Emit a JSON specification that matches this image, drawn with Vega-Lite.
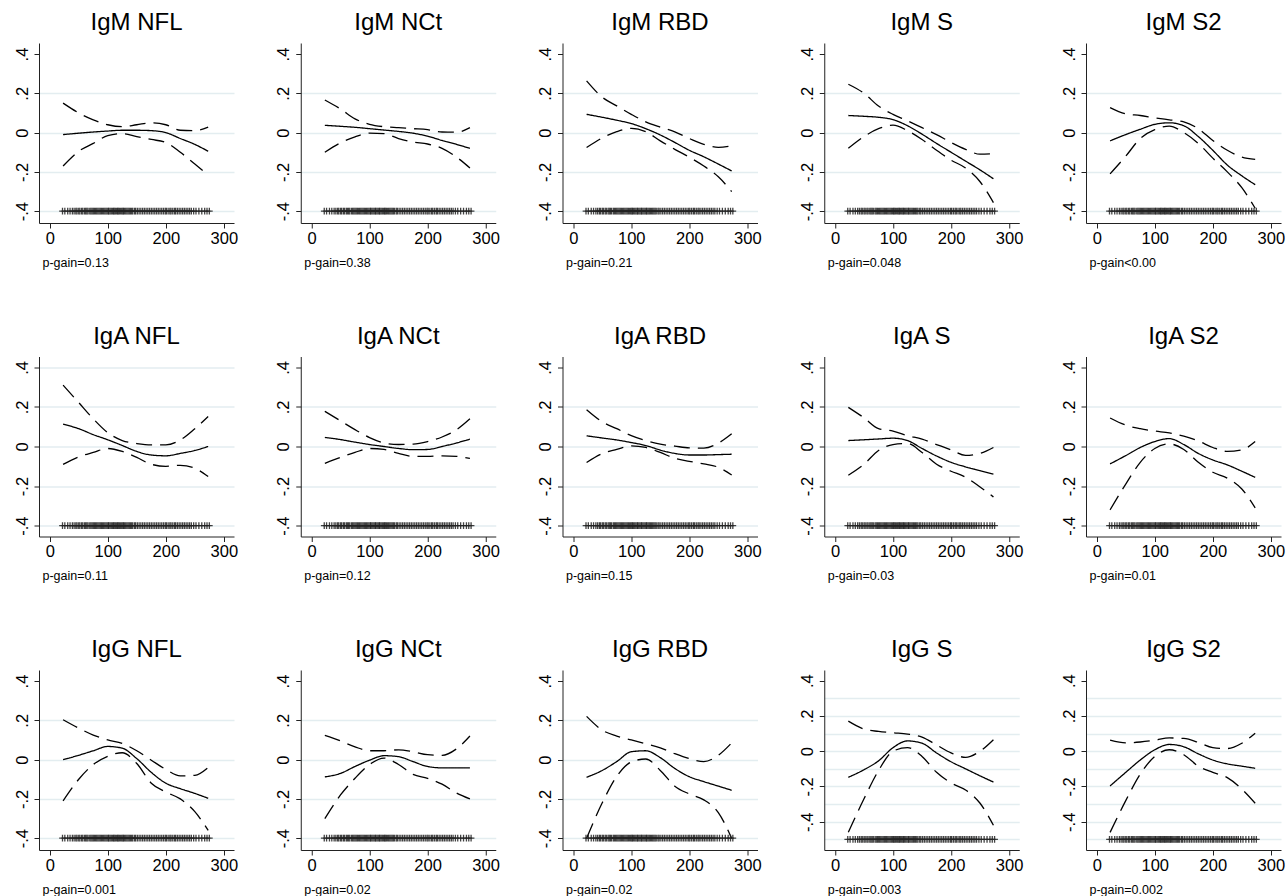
{
"$schema": "https://vega.github.io/schema/vega-lite/v6.json",
"padding": {"left": 13, "top": 11, "right": 2, "bottom": 2},
"background": "white",
"columns": 5,
"spacing": {"row": 133.5, "column": 66.75},
"bounds": "flush",
"config": {
 "view": {"stroke": null},
 "font": "Liberation Sans",
 "title": {"fontSize": 24, "fontWeight": "normal", "font": "Liberation Sans", "color": "black", "anchor": "middle", "frame": "group", "baseline": "alphabetic", "offset": 8},
 "axis": {"domainColor": "#222", "domainWidth": 1, "tickColor": "#222", "tickWidth": 1, "tickSize": 5, "labelColor": "black", "titleColor": "black", "labelFont": "Liberation Sans", "labelFontSize": 16.5, "titleFont": "Liberation Sans"},
 "axisX": {"grid": false, "labelPadding": 2, "labelFlush": false, "labelOverlap": false, "titleFontSize": 12.5, "titleFontWeight": "normal", "titleAnchor": "start", "titleAlign": "left", "titleBaseline": "alphabetic", "titleX": 3, "titleY": 43},
 "axisY": {"grid": true, "gridColor": "#e3edf0", "gridWidth": 1.3, "labelAngle": 270, "labelAlign": "center", "labelBaseline": "bottom", "labelPadding": 4, "labelOverlap": false, "labelExpr": "datum.value == 0 ? '0' : (datum.value < 0 ? '-' : '') + '.' + abs(round(datum.value*10))"}
},
"datasets": {
 "rug": [{"x":22},{"x":26},{"x":31},{"x":35},{"x":39},{"x":42},{"x":45},{"x":47},{"x":50},{"x":52},{"x":55},{"x":57},{"x":60},{"x":62},{"x":64},{"x":66},{"x":69},{"x":71},{"x":73},{"x":75},{"x":77},{"x":79},{"x":81},{"x":83},{"x":85},{"x":87},{"x":89},{"x":91},{"x":93},{"x":95},{"x":97},{"x":99},{"x":101},{"x":102},{"x":104},{"x":106},{"x":108},{"x":110},{"x":111},{"x":113},{"x":115},{"x":117},{"x":118},{"x":120},{"x":122},{"x":124},{"x":126},{"x":127},{"x":129},{"x":131},{"x":133},{"x":135},{"x":137},{"x":139},{"x":141},{"x":143},{"x":146},{"x":148},{"x":151},{"x":154},{"x":157},{"x":160},{"x":163},{"x":166},{"x":169},{"x":172},{"x":175},{"x":178},{"x":181},{"x":184},{"x":187},{"x":190},{"x":193},{"x":196},{"x":199},{"x":201},{"x":204},{"x":207},{"x":209},{"x":212},{"x":215},{"x":217},{"x":220},{"x":223},{"x":226},{"x":229},{"x":232},{"x":235},{"x":238},{"x":241},{"x":244},{"x":248},{"x":252},{"x":257},{"x":262},{"x":267},{"x":271},{"x":275}],
 "curves": [
  {"p":"IgM NFL","x":23,"est":-0.01,"lo":-0.17,"hi":0.15},
  {"p":"IgM NFL","x":50,"est":-0.003,"lo":-0.095,"hi":0.10},
  {"p":"IgM NFL","x":75,"est":0.003,"lo":-0.055,"hi":0.065},
  {"p":"IgM NFL","x":100,"est":0.008,"lo":-0.015,"hi":0.04},
  {"p":"IgM NFL","x":125,"est":0.012,"lo":-0.005,"hi":0.03},
  {"p":"IgM NFL","x":150,"est":0.012,"lo":-0.02,"hi":0.04},
  {"p":"IgM NFL","x":175,"est":0.01,"lo":-0.035,"hi":0.05},
  {"p":"IgM NFL","x":200,"est":0.0,"lo":-0.05,"hi":0.04},
  {"p":"IgM NFL","x":225,"est":-0.03,"lo":-0.1,"hi":0.012},
  {"p":"IgM NFL","x":250,"est":-0.06,"lo":-0.16,"hi":0.01},
  {"p":"IgM NFL","x":273,"est":-0.095,"lo":-0.215,"hi":0.028},
  {"p":"IgM NCt","x":23,"est":0.037,"lo":-0.1,"hi":0.166},
  {"p":"IgM NCt","x":50,"est":0.032,"lo":-0.052,"hi":0.12},
  {"p":"IgM NCt","x":75,"est":0.027,"lo":-0.022,"hi":0.07},
  {"p":"IgM NCt","x":100,"est":0.02,"lo":-0.003,"hi":0.042},
  {"p":"IgM NCt","x":125,"est":0.013,"lo":-0.005,"hi":0.03},
  {"p":"IgM NCt","x":150,"est":0.006,"lo":-0.03,"hi":0.025},
  {"p":"IgM NCt","x":175,"est":-0.003,"lo":-0.048,"hi":0.02},
  {"p":"IgM NCt","x":200,"est":-0.018,"lo":-0.058,"hi":0.015},
  {"p":"IgM NCt","x":225,"est":-0.04,"lo":-0.08,"hi":0.003},
  {"p":"IgM NCt","x":250,"est":-0.06,"lo":-0.125,"hi":0.002},
  {"p":"IgM NCt","x":273,"est":-0.08,"lo":-0.18,"hi":0.025},
  {"p":"IgM RBD","x":23,"est":0.093,"lo":-0.076,"hi":0.263},
  {"p":"IgM RBD","x":50,"est":0.078,"lo":-0.027,"hi":0.18},
  {"p":"IgM RBD","x":75,"est":0.063,"lo":0.005,"hi":0.136},
  {"p":"IgM RBD","x":100,"est":0.046,"lo":0.022,"hi":0.093},
  {"p":"IgM RBD","x":125,"est":0.02,"lo":0.005,"hi":0.055},
  {"p":"IgM RBD","x":150,"est":-0.012,"lo":-0.042,"hi":0.028},
  {"p":"IgM RBD","x":175,"est":-0.05,"lo":-0.085,"hi":0.004},
  {"p":"IgM RBD","x":200,"est":-0.09,"lo":-0.125,"hi":-0.03},
  {"p":"IgM RBD","x":225,"est":-0.123,"lo":-0.17,"hi":-0.06},
  {"p":"IgM RBD","x":250,"est":-0.16,"lo":-0.225,"hi":-0.075},
  {"p":"IgM RBD","x":273,"est":-0.195,"lo":-0.3,"hi":-0.068},
  {"p":"IgM S","x":23,"est":0.087,"lo":-0.08,"hi":0.246},
  {"p":"IgM S","x":50,"est":0.083,"lo":-0.02,"hi":0.2},
  {"p":"IgM S","x":75,"est":0.078,"lo":0.02,"hi":0.135},
  {"p":"IgM S","x":100,"est":0.066,"lo":0.038,"hi":0.093},
  {"p":"IgM S","x":125,"est":0.035,"lo":0.01,"hi":0.06},
  {"p":"IgM S","x":150,"est":-0.008,"lo":-0.035,"hi":0.025},
  {"p":"IgM S","x":175,"est":-0.055,"lo":-0.09,"hi":-0.01},
  {"p":"IgM S","x":200,"est":-0.1,"lo":-0.14,"hi":-0.05},
  {"p":"IgM S","x":225,"est":-0.145,"lo":-0.18,"hi":-0.085},
  {"p":"IgM S","x":250,"est":-0.19,"lo":-0.25,"hi":-0.11},
  {"p":"IgM S","x":273,"est":-0.235,"lo":-0.356,"hi":-0.107},
  {"p":"IgM S2","x":23,"est":-0.042,"lo":-0.21,"hi":0.127},
  {"p":"IgM S2","x":50,"est":-0.01,"lo":-0.12,"hi":0.095},
  {"p":"IgM S2","x":75,"est":0.017,"lo":-0.03,"hi":0.087},
  {"p":"IgM S2","x":100,"est":0.042,"lo":0.015,"hi":0.075},
  {"p":"IgM S2","x":125,"est":0.05,"lo":0.033,"hi":0.065},
  {"p":"IgM S2","x":150,"est":0.035,"lo":0.0,"hi":0.055},
  {"p":"IgM S2","x":175,"est":-0.02,"lo":-0.055,"hi":0.02},
  {"p":"IgM S2","x":200,"est":-0.09,"lo":-0.13,"hi":-0.04},
  {"p":"IgM S2","x":225,"est":-0.165,"lo":-0.2,"hi":-0.09},
  {"p":"IgM S2","x":250,"est":-0.22,"lo":-0.28,"hi":-0.125},
  {"p":"IgM S2","x":273,"est":-0.265,"lo":-0.385,"hi":-0.136},
  {"p":"IgA NFL","x":23,"est":0.113,"lo":-0.09,"hi":0.31},
  {"p":"IgA NFL","x":50,"est":0.09,"lo":-0.052,"hi":0.222},
  {"p":"IgA NFL","x":75,"est":0.06,"lo":-0.03,"hi":0.14},
  {"p":"IgA NFL","x":100,"est":0.034,"lo":-0.01,"hi":0.07},
  {"p":"IgA NFL","x":125,"est":0.005,"lo":-0.025,"hi":0.03},
  {"p":"IgA NFL","x":150,"est":-0.025,"lo":-0.055,"hi":0.015},
  {"p":"IgA NFL","x":175,"est":-0.043,"lo":-0.09,"hi":0.008},
  {"p":"IgA NFL","x":200,"est":-0.047,"lo":-0.1,"hi":0.008},
  {"p":"IgA NFL","x":225,"est":-0.035,"lo":-0.095,"hi":0.033},
  {"p":"IgA NFL","x":250,"est":-0.02,"lo":-0.11,"hi":0.09},
  {"p":"IgA NFL","x":273,"est":0.0,"lo":-0.152,"hi":0.152},
  {"p":"IgA NCt","x":23,"est":0.046,"lo":-0.085,"hi":0.178},
  {"p":"IgA NCt","x":50,"est":0.035,"lo":-0.055,"hi":0.13},
  {"p":"IgA NCt","x":75,"est":0.022,"lo":-0.03,"hi":0.085},
  {"p":"IgA NCt","x":100,"est":0.01,"lo":-0.01,"hi":0.045},
  {"p":"IgA NCt","x":125,"est":0.0,"lo":-0.015,"hi":0.018},
  {"p":"IgA NCt","x":150,"est":-0.01,"lo":-0.035,"hi":0.01},
  {"p":"IgA NCt","x":175,"est":-0.016,"lo":-0.05,"hi":0.012},
  {"p":"IgA NCt","x":200,"est":-0.015,"lo":-0.05,"hi":0.025},
  {"p":"IgA NCt","x":225,"est":0.0,"lo":-0.047,"hi":0.048},
  {"p":"IgA NCt","x":250,"est":0.018,"lo":-0.05,"hi":0.085},
  {"p":"IgA NCt","x":273,"est":0.037,"lo":-0.06,"hi":0.14},
  {"p":"IgA RBD","x":23,"est":0.054,"lo":-0.081,"hi":0.186},
  {"p":"IgA RBD","x":50,"est":0.043,"lo":-0.036,"hi":0.125},
  {"p":"IgA RBD","x":75,"est":0.033,"lo":-0.015,"hi":0.09},
  {"p":"IgA RBD","x":100,"est":0.02,"lo":0.003,"hi":0.055},
  {"p":"IgA RBD","x":125,"est":0.005,"lo":-0.005,"hi":0.03},
  {"p":"IgA RBD","x":150,"est":-0.018,"lo":-0.03,"hi":0.012},
  {"p":"IgA RBD","x":175,"est":-0.035,"lo":-0.06,"hi":0.002},
  {"p":"IgA RBD","x":200,"est":-0.043,"lo":-0.075,"hi":-0.007},
  {"p":"IgA RBD","x":225,"est":-0.043,"lo":-0.088,"hi":-0.008},
  {"p":"IgA RBD","x":250,"est":-0.041,"lo":-0.105,"hi":0.017},
  {"p":"IgA RBD","x":273,"est":-0.039,"lo":-0.144,"hi":0.064},
  {"p":"IgA S","x":23,"est":0.03,"lo":-0.145,"hi":0.198},
  {"p":"IgA S","x":50,"est":0.034,"lo":-0.09,"hi":0.145},
  {"p":"IgA S","x":75,"est":0.038,"lo":-0.02,"hi":0.09},
  {"p":"IgA S","x":100,"est":0.042,"lo":0.01,"hi":0.078},
  {"p":"IgA S","x":125,"est":0.03,"lo":0.015,"hi":0.055},
  {"p":"IgA S","x":150,"est":-0.01,"lo":-0.03,"hi":0.037},
  {"p":"IgA S","x":175,"est":-0.048,"lo":-0.09,"hi":0.01},
  {"p":"IgA S","x":200,"est":-0.08,"lo":-0.125,"hi":-0.017},
  {"p":"IgA S","x":225,"est":-0.103,"lo":-0.155,"hi":-0.045},
  {"p":"IgA S","x":250,"est":-0.122,"lo":-0.205,"hi":-0.035},
  {"p":"IgA S","x":273,"est":-0.14,"lo":-0.255,"hi":-0.005},
  {"p":"IgA S2","x":23,"est":-0.088,"lo":-0.32,"hi":0.144},
  {"p":"IgA S2","x":50,"est":-0.046,"lo":-0.19,"hi":0.108},
  {"p":"IgA S2","x":75,"est":-0.005,"lo":-0.08,"hi":0.09},
  {"p":"IgA S2","x":100,"est":0.025,"lo":-0.01,"hi":0.078},
  {"p":"IgA S2","x":125,"est":0.04,"lo":0.013,"hi":0.069},
  {"p":"IgA S2","x":150,"est":0.01,"lo":-0.015,"hi":0.052},
  {"p":"IgA S2","x":175,"est":-0.035,"lo":-0.08,"hi":0.028},
  {"p":"IgA S2","x":200,"est":-0.068,"lo":-0.13,"hi":-0.005},
  {"p":"IgA S2","x":225,"est":-0.093,"lo":-0.16,"hi":-0.025},
  {"p":"IgA S2","x":250,"est":-0.125,"lo":-0.215,"hi":-0.017},
  {"p":"IgA S2","x":273,"est":-0.156,"lo":-0.31,"hi":0.025},
  {"p":"IgG NFL","x":23,"est":0.0,"lo":-0.21,"hi":0.203},
  {"p":"IgG NFL","x":50,"est":0.022,"lo":-0.1,"hi":0.16},
  {"p":"IgG NFL","x":75,"est":0.045,"lo":-0.025,"hi":0.125},
  {"p":"IgG NFL","x":100,"est":0.067,"lo":0.017,"hi":0.1},
  {"p":"IgG NFL","x":125,"est":0.058,"lo":0.035,"hi":0.082},
  {"p":"IgG NFL","x":150,"est":0.005,"lo":-0.02,"hi":0.045},
  {"p":"IgG NFL","x":175,"est":-0.065,"lo":-0.12,"hi":-0.003},
  {"p":"IgG NFL","x":200,"est":-0.12,"lo":-0.165,"hi":-0.05},
  {"p":"IgG NFL","x":225,"est":-0.148,"lo":-0.2,"hi":-0.083},
  {"p":"IgG NFL","x":250,"est":-0.172,"lo":-0.265,"hi":-0.08},
  {"p":"IgG NFL","x":273,"est":-0.197,"lo":-0.36,"hi":-0.04},
  {"p":"IgG NCt","x":23,"est":-0.088,"lo":-0.3,"hi":0.123},
  {"p":"IgG NCt","x":50,"est":-0.07,"lo":-0.18,"hi":0.095},
  {"p":"IgG NCt","x":75,"est":-0.035,"lo":-0.095,"hi":0.065},
  {"p":"IgG NCt","x":100,"est":-0.003,"lo":-0.025,"hi":0.045},
  {"p":"IgG NCt","x":125,"est":0.02,"lo":0.008,"hi":0.045},
  {"p":"IgG NCt","x":150,"est":0.015,"lo":-0.025,"hi":0.05},
  {"p":"IgG NCt","x":175,"est":-0.01,"lo":-0.075,"hi":0.04},
  {"p":"IgG NCt","x":200,"est":-0.035,"lo":-0.095,"hi":0.025},
  {"p":"IgG NCt","x":225,"est":-0.042,"lo":-0.125,"hi":0.022},
  {"p":"IgG NCt","x":250,"est":-0.042,"lo":-0.17,"hi":0.055},
  {"p":"IgG NCt","x":273,"est":-0.042,"lo":-0.2,"hi":0.12},
  {"p":"IgG RBD","x":23,"est":-0.09,"lo":-0.4,"hi":0.22},
  {"p":"IgG RBD","x":50,"est":-0.055,"lo":-0.22,"hi":0.15},
  {"p":"IgG RBD","x":75,"est":-0.01,"lo":-0.085,"hi":0.12},
  {"p":"IgG RBD","x":100,"est":0.04,"lo":-0.012,"hi":0.1},
  {"p":"IgG RBD","x":125,"est":0.045,"lo":0.003,"hi":0.08},
  {"p":"IgG RBD","x":150,"est":0.01,"lo":-0.055,"hi":0.06},
  {"p":"IgG RBD","x":175,"est":-0.045,"lo":-0.135,"hi":0.03},
  {"p":"IgG RBD","x":200,"est":-0.087,"lo":-0.175,"hi":0.005},
  {"p":"IgG RBD","x":225,"est":-0.112,"lo":-0.205,"hi":-0.01},
  {"p":"IgG RBD","x":250,"est":-0.135,"lo":-0.27,"hi":0.022},
  {"p":"IgG RBD","x":273,"est":-0.156,"lo":-0.4,"hi":0.085},
  {"p":"IgG S","x":23,"est":-0.148,"lo":-0.46,"hi":0.17},
  {"p":"IgG S","x":50,"est":-0.105,"lo":-0.27,"hi":0.125},
  {"p":"IgG S","x":75,"est":-0.055,"lo":-0.11,"hi":0.112},
  {"p":"IgG S","x":100,"est":0.02,"lo":0.0,"hi":0.104},
  {"p":"IgG S","x":125,"est":0.058,"lo":0.02,"hi":0.097},
  {"p":"IgG S","x":150,"est":0.045,"lo":-0.03,"hi":0.08},
  {"p":"IgG S","x":175,"est":-0.01,"lo":-0.12,"hi":0.035},
  {"p":"IgG S","x":200,"est":-0.06,"lo":-0.18,"hi":-0.01},
  {"p":"IgG S","x":225,"est":-0.1,"lo":-0.22,"hi":-0.035},
  {"p":"IgG S","x":250,"est":-0.14,"lo":-0.295,"hi":0.0},
  {"p":"IgG S","x":273,"est":-0.175,"lo":-0.42,"hi":0.065},
  {"p":"IgG S2","x":23,"est":-0.197,"lo":-0.46,"hi":0.062},
  {"p":"IgG S2","x":50,"est":-0.12,"lo":-0.28,"hi":0.047},
  {"p":"IgG S2","x":75,"est":-0.05,"lo":-0.13,"hi":0.052},
  {"p":"IgG S2","x":100,"est":0.008,"lo":-0.03,"hi":0.062},
  {"p":"IgG S2","x":125,"est":0.038,"lo":0.008,"hi":0.075},
  {"p":"IgG S2","x":150,"est":0.025,"lo":-0.02,"hi":0.072},
  {"p":"IgG S2","x":175,"est":-0.015,"lo":-0.085,"hi":0.05},
  {"p":"IgG S2","x":200,"est":-0.05,"lo":-0.12,"hi":0.02},
  {"p":"IgG S2","x":225,"est":-0.072,"lo":-0.15,"hi":0.015},
  {"p":"IgG S2","x":250,"est":-0.085,"lo":-0.215,"hi":0.045},
  {"p":"IgG S2","x":273,"est":-0.097,"lo":-0.295,"hi":0.102}
 ]
},
"concat": [
 {"width":195,"height":180,"title":"IgM NFL","layer":[
  {"data":{"name":"curves"},"transform":[{"filter":{"field":"p","equal":"IgM NFL"}},{"fold":["lo","hi","est"],"as":["band","v"]}],
   "mark":{"type":"line","interpolate":"monotone","color":"black","strokeWidth":1.3},
   "encoding":{"x":{"field":"x","type":"quantitative","scale":{"domain":[-18.5,317.5],"nice":false},"axis":{"title":"p-gain=0.13","values":[0,100,200,300]}},
    "y":{"field":"v","type":"quantitative","scale":{"domain":[-0.46,0.456],"nice":false,"zero":false},"axis":{"title":null,"values":[-0.4,-0.2,0,0.2,0.4],"gridOpacity":{"condition":{"test":"datum.value > 0.35","value":0},"value":1}}},
    "strokeDash":{"field":"band","type":"nominal","scale":{"domain":["est","lo","hi"],"range":[[1,0],[16,8],[16,8]]},"legend":null}}},
  {"data":{"name":"rug"},"mark":{"type":"point","shape":"M-1,0H1M0,-1V1","filled":false,"color":"#222","opacity":0.85,"size":45,"strokeWidth":1.3},
   "encoding":{"x":{"field":"x","type":"quantitative"},"y":{"datum":-0.4}}}]},
 {"width":195,"height":180,"title":"IgM NCt","layer":[
  {"data":{"name":"curves"},"transform":[{"filter":{"field":"p","equal":"IgM NCt"}},{"fold":["lo","hi","est"],"as":["band","v"]}],
   "mark":{"type":"line","interpolate":"monotone","color":"black","strokeWidth":1.3},
   "encoding":{"x":{"field":"x","type":"quantitative","scale":{"domain":[-18.5,317.5],"nice":false},"axis":{"title":"p-gain=0.38","values":[0,100,200,300]}},
    "y":{"field":"v","type":"quantitative","scale":{"domain":[-0.46,0.456],"nice":false,"zero":false},"axis":{"title":null,"values":[-0.4,-0.2,0,0.2,0.4],"gridOpacity":{"condition":{"test":"datum.value > 0.35","value":0},"value":1}}},
    "strokeDash":{"field":"band","type":"nominal","scale":{"domain":["est","lo","hi"],"range":[[1,0],[16,8],[16,8]]},"legend":null}}},
  {"data":{"name":"rug"},"mark":{"type":"point","shape":"M-1,0H1M0,-1V1","filled":false,"color":"#222","opacity":0.85,"size":45,"strokeWidth":1.3},
   "encoding":{"x":{"field":"x","type":"quantitative"},"y":{"datum":-0.4}}}]},
 {"width":195,"height":180,"title":"IgM RBD","layer":[
  {"data":{"name":"curves"},"transform":[{"filter":{"field":"p","equal":"IgM RBD"}},{"fold":["lo","hi","est"],"as":["band","v"]}],
   "mark":{"type":"line","interpolate":"monotone","color":"black","strokeWidth":1.3},
   "encoding":{"x":{"field":"x","type":"quantitative","scale":{"domain":[-18.5,317.5],"nice":false},"axis":{"title":"p-gain=0.21","values":[0,100,200,300]}},
    "y":{"field":"v","type":"quantitative","scale":{"domain":[-0.46,0.456],"nice":false,"zero":false},"axis":{"title":null,"values":[-0.4,-0.2,0,0.2,0.4],"gridOpacity":{"condition":{"test":"datum.value > 0.35","value":0},"value":1}}},
    "strokeDash":{"field":"band","type":"nominal","scale":{"domain":["est","lo","hi"],"range":[[1,0],[16,8],[16,8]]},"legend":null}}},
  {"data":{"name":"rug"},"mark":{"type":"point","shape":"M-1,0H1M0,-1V1","filled":false,"color":"#222","opacity":0.85,"size":45,"strokeWidth":1.3},
   "encoding":{"x":{"field":"x","type":"quantitative"},"y":{"datum":-0.4}}}]},
 {"width":195,"height":180,"title":"IgM S","layer":[
  {"data":{"name":"curves"},"transform":[{"filter":{"field":"p","equal":"IgM S"}},{"fold":["lo","hi","est"],"as":["band","v"]}],
   "mark":{"type":"line","interpolate":"monotone","color":"black","strokeWidth":1.3},
   "encoding":{"x":{"field":"x","type":"quantitative","scale":{"domain":[-18.5,317.5],"nice":false},"axis":{"title":"p-gain=0.048","values":[0,100,200,300]}},
    "y":{"field":"v","type":"quantitative","scale":{"domain":[-0.46,0.456],"nice":false,"zero":false},"axis":{"title":null,"values":[-0.4,-0.2,0,0.2,0.4],"gridOpacity":{"condition":{"test":"datum.value > 0.35","value":0},"value":1}}},
    "strokeDash":{"field":"band","type":"nominal","scale":{"domain":["est","lo","hi"],"range":[[1,0],[16,8],[16,8]]},"legend":null}}},
  {"data":{"name":"rug"},"mark":{"type":"point","shape":"M-1,0H1M0,-1V1","filled":false,"color":"#222","opacity":0.85,"size":45,"strokeWidth":1.3},
   "encoding":{"x":{"field":"x","type":"quantitative"},"y":{"datum":-0.4}}}]},
 {"width":195,"height":180,"title":"IgM S2","layer":[
  {"data":{"name":"curves"},"transform":[{"filter":{"field":"p","equal":"IgM S2"}},{"fold":["lo","hi","est"],"as":["band","v"]}],
   "mark":{"type":"line","interpolate":"monotone","color":"black","strokeWidth":1.3},
   "encoding":{"x":{"field":"x","type":"quantitative","scale":{"domain":[-18.5,317.5],"nice":false},"axis":{"title":"p-gain<0.00","values":[0,100,200,300]}},
    "y":{"field":"v","type":"quantitative","scale":{"domain":[-0.46,0.456],"nice":false,"zero":false},"axis":{"title":null,"values":[-0.4,-0.2,0,0.2,0.4],"gridOpacity":{"condition":{"test":"datum.value > 0.35","value":0},"value":1}}},
    "strokeDash":{"field":"band","type":"nominal","scale":{"domain":["est","lo","hi"],"range":[[1,0],[16,8],[16,8]]},"legend":null}}},
  {"data":{"name":"rug"},"mark":{"type":"point","shape":"M-1,0H1M0,-1V1","filled":false,"color":"#222","opacity":0.85,"size":45,"strokeWidth":1.3},
   "encoding":{"x":{"field":"x","type":"quantitative"},"y":{"datum":-0.4}}}]},
 {"width":195,"height":180,"title":"IgA NFL","layer":[
  {"data":{"name":"curves"},"transform":[{"filter":{"field":"p","equal":"IgA NFL"}},{"fold":["lo","hi","est"],"as":["band","v"]}],
   "mark":{"type":"line","interpolate":"monotone","color":"black","strokeWidth":1.3},
   "encoding":{"x":{"field":"x","type":"quantitative","scale":{"domain":[-18.5,317.5],"nice":false},"axis":{"title":"p-gain=0.11","values":[0,100,200,300]}},
    "y":{"field":"v","type":"quantitative","scale":{"domain":[-0.455,0.455],"nice":false,"zero":false},"axis":{"title":null,"values":[-0.4,-0.2,0,0.2,0.4]}},
    "strokeDash":{"field":"band","type":"nominal","scale":{"domain":["est","lo","hi"],"range":[[1,0],[16,8],[16,8]]},"legend":null}}},
  {"data":{"name":"rug"},"mark":{"type":"point","shape":"M-1,0H1M0,-1V1","filled":false,"color":"#222","opacity":0.85,"size":45,"strokeWidth":1.3},
   "encoding":{"x":{"field":"x","type":"quantitative"},"y":{"datum":-0.4}}}]},
 {"width":195,"height":180,"title":"IgA NCt","layer":[
  {"data":{"name":"curves"},"transform":[{"filter":{"field":"p","equal":"IgA NCt"}},{"fold":["lo","hi","est"],"as":["band","v"]}],
   "mark":{"type":"line","interpolate":"monotone","color":"black","strokeWidth":1.3},
   "encoding":{"x":{"field":"x","type":"quantitative","scale":{"domain":[-18.5,317.5],"nice":false},"axis":{"title":"p-gain=0.12","values":[0,100,200,300]}},
    "y":{"field":"v","type":"quantitative","scale":{"domain":[-0.455,0.455],"nice":false,"zero":false},"axis":{"title":null,"values":[-0.4,-0.2,0,0.2,0.4],"gridOpacity":{"condition":{"test":"datum.value > 0.35","value":0},"value":1}}},
    "strokeDash":{"field":"band","type":"nominal","scale":{"domain":["est","lo","hi"],"range":[[1,0],[16,8],[16,8]]},"legend":null}}},
  {"data":{"name":"rug"},"mark":{"type":"point","shape":"M-1,0H1M0,-1V1","filled":false,"color":"#222","opacity":0.85,"size":45,"strokeWidth":1.3},
   "encoding":{"x":{"field":"x","type":"quantitative"},"y":{"datum":-0.4}}}]},
 {"width":195,"height":180,"title":"IgA RBD","layer":[
  {"data":{"name":"curves"},"transform":[{"filter":{"field":"p","equal":"IgA RBD"}},{"fold":["lo","hi","est"],"as":["band","v"]}],
   "mark":{"type":"line","interpolate":"monotone","color":"black","strokeWidth":1.3},
   "encoding":{"x":{"field":"x","type":"quantitative","scale":{"domain":[-18.5,317.5],"nice":false},"axis":{"title":"p-gain=0.15","values":[0,100,200,300]}},
    "y":{"field":"v","type":"quantitative","scale":{"domain":[-0.455,0.455],"nice":false,"zero":false},"axis":{"title":null,"values":[-0.4,-0.2,0,0.2,0.4],"gridOpacity":{"condition":{"test":"datum.value > 0.35","value":0},"value":1}}},
    "strokeDash":{"field":"band","type":"nominal","scale":{"domain":["est","lo","hi"],"range":[[1,0],[16,8],[16,8]]},"legend":null}}},
  {"data":{"name":"rug"},"mark":{"type":"point","shape":"M-1,0H1M0,-1V1","filled":false,"color":"#222","opacity":0.85,"size":45,"strokeWidth":1.3},
   "encoding":{"x":{"field":"x","type":"quantitative"},"y":{"datum":-0.4}}}]},
 {"width":195,"height":180,"title":"IgA S","layer":[
  {"data":{"name":"curves"},"transform":[{"filter":{"field":"p","equal":"IgA S"}},{"fold":["lo","hi","est"],"as":["band","v"]}],
   "mark":{"type":"line","interpolate":"monotone","color":"black","strokeWidth":1.3},
   "encoding":{"x":{"field":"x","type":"quantitative","scale":{"domain":[-18.5,317.5],"nice":false},"axis":{"title":"p-gain=0.03","values":[0,100,200,300]}},
    "y":{"field":"v","type":"quantitative","scale":{"domain":[-0.455,0.455],"nice":false,"zero":false},"axis":{"title":null,"values":[-0.4,-0.2,0,0.2,0.4],"gridOpacity":{"condition":{"test":"datum.value > 0.35","value":0},"value":1}}},
    "strokeDash":{"field":"band","type":"nominal","scale":{"domain":["est","lo","hi"],"range":[[1,0],[16,8],[16,8]]},"legend":null}}},
  {"data":{"name":"rug"},"mark":{"type":"point","shape":"M-1,0H1M0,-1V1","filled":false,"color":"#222","opacity":0.85,"size":45,"strokeWidth":1.3},
   "encoding":{"x":{"field":"x","type":"quantitative"},"y":{"datum":-0.4}}}]},
 {"width":195,"height":180,"title":"IgA S2","layer":[
  {"data":{"name":"curves"},"transform":[{"filter":{"field":"p","equal":"IgA S2"}},{"fold":["lo","hi","est"],"as":["band","v"]}],
   "mark":{"type":"line","interpolate":"monotone","color":"black","strokeWidth":1.3},
   "encoding":{"x":{"field":"x","type":"quantitative","scale":{"domain":[-18.5,317.5],"nice":false},"axis":{"title":"p-gain=0.01","values":[0,100,200,300]}},
    "y":{"field":"v","type":"quantitative","scale":{"domain":[-0.455,0.455],"nice":false,"zero":false},"axis":{"title":null,"values":[-0.4,-0.2,0,0.2,0.4],"gridOpacity":{"condition":{"test":"datum.value > 0.35","value":0},"value":1}}},
    "strokeDash":{"field":"band","type":"nominal","scale":{"domain":["est","lo","hi"],"range":[[1,0],[16,8],[16,8]]},"legend":null}}},
  {"data":{"name":"rug"},"mark":{"type":"point","shape":"M-1,0H1M0,-1V1","filled":false,"color":"#222","opacity":0.85,"size":45,"strokeWidth":1.3},
   "encoding":{"x":{"field":"x","type":"quantitative"},"y":{"datum":-0.4}}}]},
 {"width":195,"height":180,"title":"IgG NFL","layer":[
  {"data":{"name":"curves"},"transform":[{"filter":{"field":"p","equal":"IgG NFL"}},{"fold":["lo","hi","est"],"as":["band","v"]}],
   "mark":{"type":"line","interpolate":"monotone","color":"black","strokeWidth":1.3},
   "encoding":{"x":{"field":"x","type":"quantitative","scale":{"domain":[-18.5,317.5],"nice":false},"axis":{"title":"p-gain=0.001","values":[0,100,200,300]}},
    "y":{"field":"v","type":"quantitative","scale":{"domain":[-0.46,0.456],"nice":false,"zero":false},"axis":{"title":null,"values":[-0.4,-0.2,0,0.2,0.4],"gridOpacity":{"condition":{"test":"datum.value > 0.35","value":0},"value":1}}},
    "strokeDash":{"field":"band","type":"nominal","scale":{"domain":["est","lo","hi"],"range":[[1,0],[16,8],[16,8]]},"legend":null}}},
  {"data":{"name":"rug"},"mark":{"type":"point","shape":"M-1,0H1M0,-1V1","filled":false,"color":"#222","opacity":0.85,"size":45,"strokeWidth":1.3},
   "encoding":{"x":{"field":"x","type":"quantitative"},"y":{"datum":-0.4}}}]},
 {"width":195,"height":180,"title":"IgG NCt","layer":[
  {"data":{"name":"curves"},"transform":[{"filter":{"field":"p","equal":"IgG NCt"}},{"fold":["lo","hi","est"],"as":["band","v"]}],
   "mark":{"type":"line","interpolate":"monotone","color":"black","strokeWidth":1.3},
   "encoding":{"x":{"field":"x","type":"quantitative","scale":{"domain":[-18.5,317.5],"nice":false},"axis":{"title":"p-gain=0.02","values":[0,100,200,300]}},
    "y":{"field":"v","type":"quantitative","scale":{"domain":[-0.46,0.456],"nice":false,"zero":false},"axis":{"title":null,"values":[-0.4,-0.2,0,0.2,0.4],"gridOpacity":{"condition":{"test":"datum.value > 0.35","value":0},"value":1}}},
    "strokeDash":{"field":"band","type":"nominal","scale":{"domain":["est","lo","hi"],"range":[[1,0],[16,8],[16,8]]},"legend":null}}},
  {"data":{"name":"rug"},"mark":{"type":"point","shape":"M-1,0H1M0,-1V1","filled":false,"color":"#222","opacity":0.85,"size":45,"strokeWidth":1.3},
   "encoding":{"x":{"field":"x","type":"quantitative"},"y":{"datum":-0.4}}}]},
 {"width":195,"height":180,"title":"IgG RBD","layer":[
  {"data":{"name":"curves"},"transform":[{"filter":{"field":"p","equal":"IgG RBD"}},{"fold":["lo","hi","est"],"as":["band","v"]}],
   "mark":{"type":"line","interpolate":"monotone","color":"black","strokeWidth":1.3},
   "encoding":{"x":{"field":"x","type":"quantitative","scale":{"domain":[-18.5,317.5],"nice":false},"axis":{"title":"p-gain=0.02","values":[0,100,200,300]}},
    "y":{"field":"v","type":"quantitative","scale":{"domain":[-0.46,0.456],"nice":false,"zero":false},"axis":{"title":null,"values":[-0.4,-0.2,0,0.2,0.4],"gridOpacity":{"condition":{"test":"datum.value > 0.35","value":0},"value":1}}},
    "strokeDash":{"field":"band","type":"nominal","scale":{"domain":["est","lo","hi"],"range":[[1,0],[16,8],[16,8]]},"legend":null}}},
  {"data":{"name":"rug"},"mark":{"type":"point","shape":"M-1,0H1M0,-1V1","filled":false,"color":"#222","opacity":0.85,"size":45,"strokeWidth":1.3},
   "encoding":{"x":{"field":"x","type":"quantitative"},"y":{"datum":-0.4}}}]},
 {"width":195,"height":180,"title":"IgG S","resolve":{"axis":{"y":"independent"}},"layer":[
  {"data":{"name":"curves"},"transform":[{"filter":{"field":"p","equal":"IgG S"}},{"fold":["lo","hi","est"],"as":["band","v"]}],
   "mark":{"type":"line","interpolate":"monotone","color":"black","strokeWidth":1.3},
   "encoding":{"x":{"field":"x","type":"quantitative","scale":{"domain":[-18.5,317.5],"nice":false},"axis":{"title":"p-gain=0.003","values":[0,100,200,300]}},
    "y":{"field":"v","type":"quantitative","scale":{"domain":[-0.56,0.46],"nice":false,"zero":false},"axis":{"title":null,"values":[-0.4,-0.2,0,0.2,0.4],"gridOpacity":{"condition":{"test":"datum.value > 0.35","value":0},"value":1}}},
    "strokeDash":{"field":"band","type":"nominal","scale":{"domain":["est","lo","hi"],"range":[[1,0],[16,8],[16,8]]},"legend":null}}},
  {"data":{"name":"rug"},"mark":{"type":"point","shape":"M-1,0H1M0,-1V1","filled":false,"color":"#222","opacity":0.85,"size":45,"strokeWidth":1.3},
   "encoding":{"x":{"field":"x","type":"quantitative"},"y":{"datum":-0.5,"axis":{"orient":"right","title":null,"values":[-0.5,-0.3,-0.1,0.1,0.3],"grid":true,"labels":false,"ticks":false,"domain":false}}}}]},
 {"width":195,"height":180,"title":"IgG S2","resolve":{"axis":{"y":"independent"}},"layer":[
  {"data":{"name":"curves"},"transform":[{"filter":{"field":"p","equal":"IgG S2"}},{"fold":["lo","hi","est"],"as":["band","v"]}],
   "mark":{"type":"line","interpolate":"monotone","color":"black","strokeWidth":1.3},
   "encoding":{"x":{"field":"x","type":"quantitative","scale":{"domain":[-18.5,317.5],"nice":false},"axis":{"title":"p-gain=0.002","values":[0,100,200,300]}},
    "y":{"field":"v","type":"quantitative","scale":{"domain":[-0.56,0.46],"nice":false,"zero":false},"axis":{"title":null,"values":[-0.4,-0.2,0,0.2,0.4],"gridOpacity":{"condition":{"test":"datum.value > 0.35","value":0},"value":1}}},
    "strokeDash":{"field":"band","type":"nominal","scale":{"domain":["est","lo","hi"],"range":[[1,0],[16,8],[16,8]]},"legend":null}}},
  {"data":{"name":"rug"},"mark":{"type":"point","shape":"M-1,0H1M0,-1V1","filled":false,"color":"#222","opacity":0.85,"size":45,"strokeWidth":1.3},
   "encoding":{"x":{"field":"x","type":"quantitative"},"y":{"datum":-0.5,"axis":{"orient":"right","title":null,"values":[-0.5,-0.3,-0.1,0.1,0.3],"grid":true,"labels":false,"ticks":false,"domain":false}}}}]}
]
}
